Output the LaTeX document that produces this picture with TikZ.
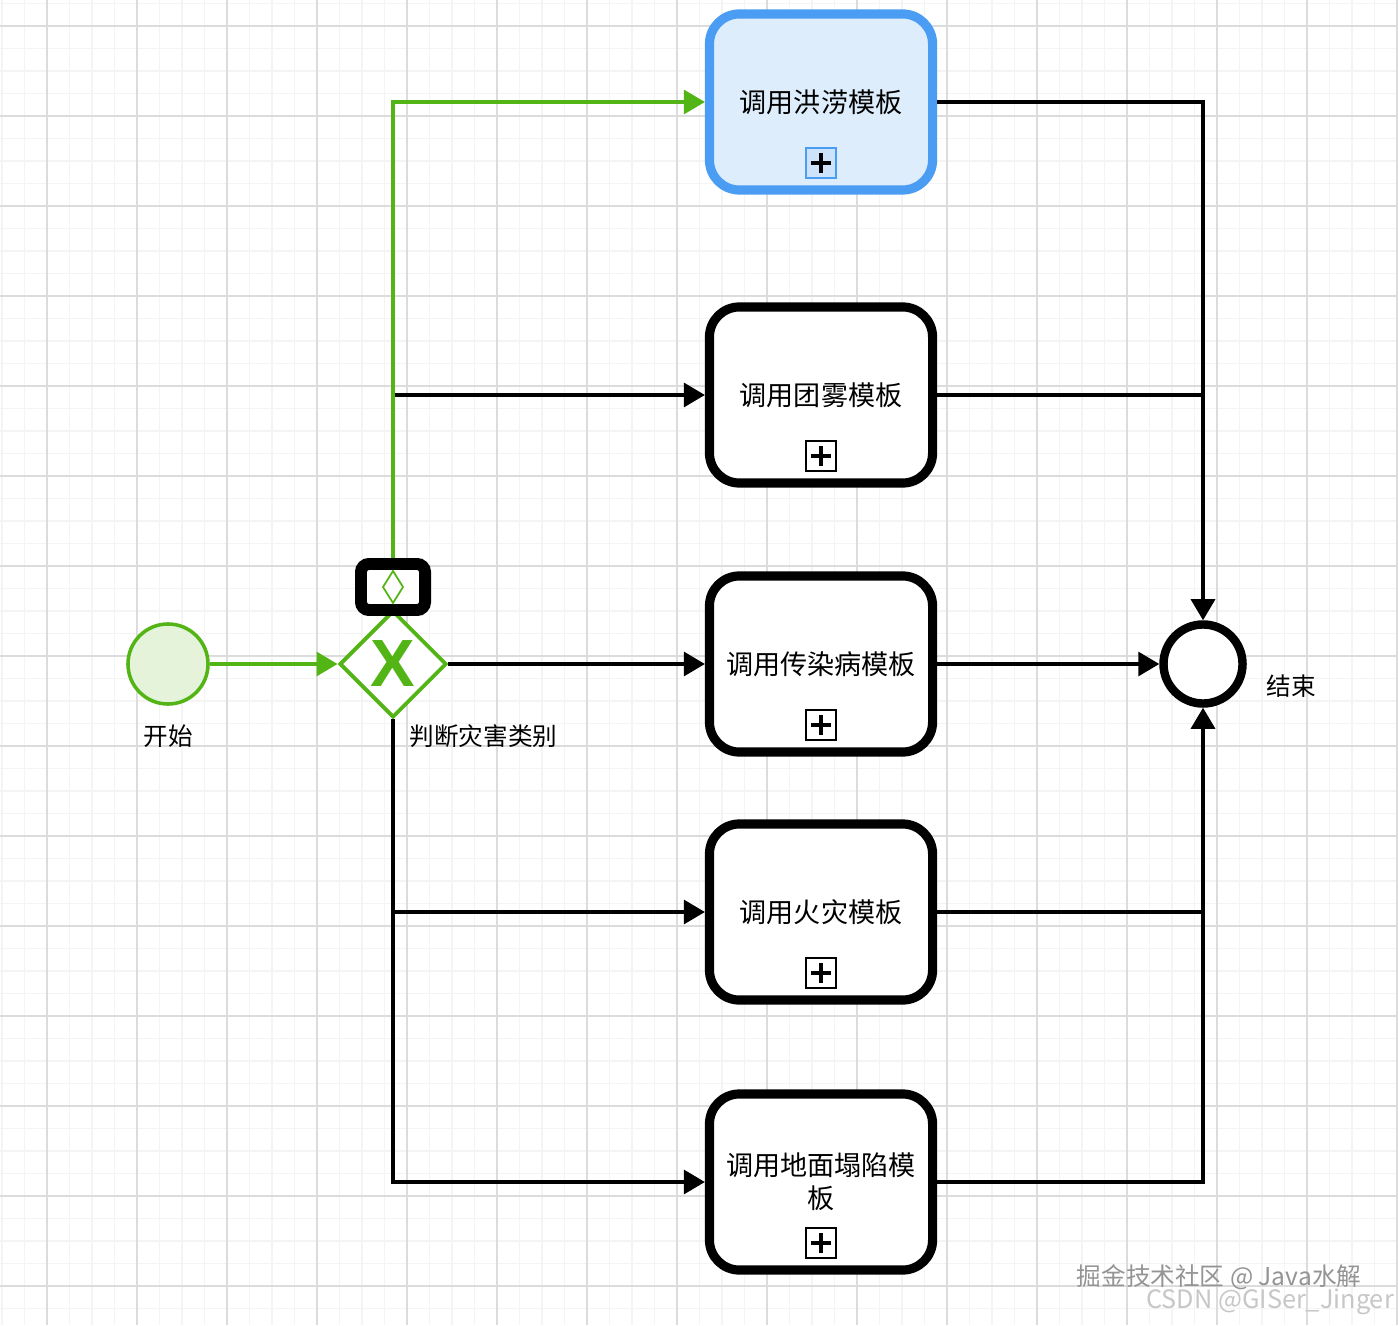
\documentclass[tikz,border=0pt]{standalone}
\usepackage{fontspec}
\setmainfont{Noto Sans CJK SC}
\newfontfamily\xfont{Liberation Sans}
\usetikzlibrary{arrows.meta,positioning,shapes.geometric}
\definecolor{bpmngreen}{HTML}{52B415}
\definecolor{startfill}{HTML}{E4F3DA}
\definecolor{taskblue}{HTML}{4B9DF3}
\definecolor{taskbluefill}{HTML}{DDEDFC}
\definecolor{markerblue}{HTML}{CCE3FA}
\definecolor{gridlight}{HTML}{F4F4F4}
\definecolor{griddark}{HTML}{DCDCDC}

\begin{document}
\begin{tikzpicture}[
    x=0.01cm, y=-0.01cm,
    gridminor/.style={draw=gridlight, line width=0.4pt},
    gridmajor/.style={draw=griddark, line width=0.5pt},
    task/.style={rectangle, draw, line width=2.6pt, rounded corners=0.3cm, minimum width=2.23cm, minimum height=1.76cm, align=center, fill=white, font=\fontsize{7.7}{9.4}\selectfont},
    activetask/.style={task, draw=taskblue, fill=taskbluefill},
    collapsed/.style={rectangle, draw, line width=0.5pt, fill=white, minimum size=0.3cm, inner sep=0,
        path picture={\draw[line width=1.3pt, black]
            ([xshift=-0.1cm]path picture bounding box.center) -- ([xshift=0.1cm]path picture bounding box.center)
            ([yshift=-0.1cm]path picture bounding box.center) -- ([yshift=0.1cm]path picture bounding box.center);}},
    event/.style={circle, draw, inner sep=0},
    gateway/.style={diamond, draw=bpmngreen, line width=1.1pt, fill=white, minimum size=1.07cm, inner sep=0, text=bpmngreen, font=\xfont\bfseries\fontsize{19}{19}\selectfont},
    flow/.style={-{Triangle[length=0.21cm,width=0.24cm]}, line width=0.9pt},
    greenflow/.style={flow, draw=bpmngreen},
    plain/.style={line width=0.9pt},
    lbl/.style={font=\fontsize{7}{9}\selectfont, inner sep=0}
]
    \useasboundingbox[fill=white] (0,0) rectangle (1398,1325);

    % background grid
    \foreach \i in {0,...,62} \draw[gridminor] ({2+22.5*\i},0) -- ({2+22.5*\i},1325);
    \foreach \i in {0,...,58} \draw[gridminor] (0,{3.5+22.5*\i}) -- (1398,{3.5+22.5*\i});
    \foreach \i in {0,...,15} \draw[gridmajor] ({47+90*\i},0) -- ({47+90*\i},1325);
    \foreach \i in {0,...,14} \draw[gridmajor] (0,{26+90*\i}) -- (1398,{26+90*\i});

    % events and gateway
    \node[event, draw=bpmngreen, fill=startfill, line width=1pt, minimum size=0.8cm] (start) at (168,664) {};
    \node[gateway] (gw) at (393,664) {X};
    \node[event, line width=2.4pt, fill=white, minimum size=0.79cm] (end) at (1203,664) {};

    \node[lbl, below=0.18cm of start] (startlbl) {开始};
    \node[lbl, anchor=west] (gwlbl) at (409,736) {判断灾害类别};
    \node[lbl] (endlbl) at (1291,686) {结束};

    % tasks
    \node[activetask] (t1) at (821,102) {调用洪涝模板};
    \node[task] (t2) at (821,395) {调用团雾模板};
    \node[task] (t3) at (821,664) {调用传染病模板};
    \node[task] (t4) at (821,912) {调用火灾模板};
    \node[task] (t5) at (821,1182) {调用地面塌陷模\\板};

    \node[collapsed, draw=taskblue, fill=markerblue] (m1) at ([yshift=-0.61cm]t1.center) {};
    \node[collapsed] (m2) at ([yshift=-0.61cm]t2.center) {};
    \node[collapsed] (m3) at ([yshift=-0.61cm]t3.center) {};
    \node[collapsed] (m4) at ([yshift=-0.61cm]t4.center) {};
    \node[collapsed] (m5) at ([yshift=-0.61cm]t5.center) {};

    % sequence flows
    \draw[greenflow] (start) -- (gw);
    \draw[flow] (gw.north |- t2.west) -- (t2.west);
    \draw[flow] (gw.east) -- (t3.west);
    \draw[flow] (gw.south |- t4.west) -- (t4.west);
    \draw[flow] (gw.south) |- (t5.west);
    \draw[greenflow] (gw.north) |- (t1.west);

    \draw[flow] (t1.east) -| (end.north);
    \draw[plain] (t2.east) -- (t2.east -| end.north);
    \draw[flow] (t3.east) -- (end.west);
    \draw[plain] (t4.east) -- (t4.east -| end.south);
    \draw[flow] (t5.east) -| (end.south);

    % conditional flow marker
    \node[rectangle, draw, line width=3.4pt, rounded corners=0.08cm, fill=white, minimum width=0.64cm, minimum height=0.46cm, inner sep=0] (cond) at (393,587) {};
    \draw[bpmngreen, line width=0.5pt] (cond.center) ++(0,-16) -- ++(10,16) -- ++(-10,16) -- ++(-10,-16) -- cycle;

    % watermark
    \node[font=\fontsize{7}{8}\selectfont, text=black!42] (wm1) at (1219,1277) {掘金技术社区 @ Java水解};
    \node[font=\fontsize{7.2}{8}\selectfont, text=black!22] (wm2) at (1270,1302) {CSDN @GISer\_Jinger};
\end{tikzpicture}
\end{document}
